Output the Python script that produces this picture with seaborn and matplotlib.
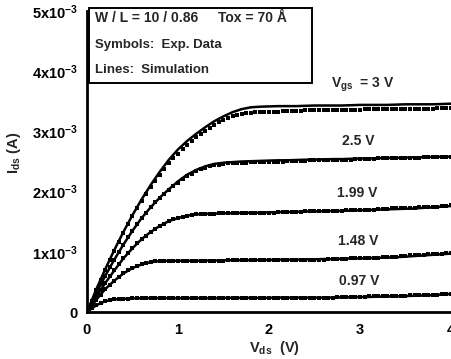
import numpy as np
import pandas as pd
import matplotlib
matplotlib.use("Agg")
import matplotlib.pyplot as plt
from matplotlib.patches import Rectangle
import seaborn as sns

# Gate voltages (V) and curve labels
vgs_values = [3.0, 2.5, 1.99, 1.48, 0.97]
vgs_labels = ["V$_{gs}$  = 3 V", "2.5 V", "1.99 V", "1.48 V", "0.97 V"]

# Simulation: Vds from 0 to 4 V in 0.1 V steps, Ids in mA
vds_sim = [round(0.1 * i, 2) for i in range(41)]
sim_3v00 = [0, .37, .71, 1.03, 1.33, 1.61, 1.87, 2.11, 2.33, 2.53, 2.70,
            2.84, 2.96, 3.07, 3.17, 3.25, 3.32, 3.37, 3.40, 3.41, 3.415,
            3.42, 3.42, 3.42, 3.425, 3.43, 3.43, 3.43, 3.43, 3.435, 3.44,
            3.44, 3.44, 3.44, 3.445, 3.45, 3.45, 3.45, 3.45, 3.455, 3.46]
sim_2v50 = [0, .31, .60, .87, 1.12, 1.35, 1.56, 1.74, 1.90, 2.04, 2.17,
            2.28, 2.36, 2.42, 2.46, 2.48, 2.49, 2.50, 2.505, 2.51, 2.515,
            2.52, 2.52, 2.525, 2.53, 2.53, 2.535, 2.54, 2.54, 2.545, 2.55,
            2.55, 2.555, 2.56, 2.56, 2.565, 2.57, 2.57, 2.575, 2.58, 2.58]
sim_1v99 = [0, .25, .48, .69, .89, 1.06, 1.21, 1.33, 1.43, 1.51, 1.56,
            1.60, 1.62, 1.63, 1.635, 1.64, 1.64, 1.645, 1.65, 1.65, 1.655,
            1.66, 1.66, 1.665, 1.67, 1.67, 1.675, 1.68, 1.68, 1.685, 1.69,
            1.695, 1.70, 1.705, 1.71, 1.715, 1.72, 1.73, 1.74, 1.75, 1.76]
sim_1v48 = [0, .20, .38, .52, .64, .73, .79, .83, .845, .85, .85,
            .85, .85, .855, .855, .86, .86, .86, .86, .865, .865,
            .87, .87, .87, .875, .875, .88, .88, .885, .89, .89,
            .895, .90, .905, .91, .92, .93, .94, .95, .96, .97]
sim_0v97 = [0, .11, .18, .21, .22, .225, .23, .23, .23, .23, .23,
            .23, .23, .23, .23, .235, .235, .235, .235, .235, .235,
            .24, .24, .24, .24, .24, .24, .24, .245, .245, .25,
            .25, .255, .26, .26, .265, .27, .275, .28, .29, .30]

# Measured data: Vds from 0 to 4 V in 0.05 V steps, Ids in mA
vds_exp = [round(0.05 * i, 2) for i in range(81)]
exp_3v00 = [0, .18, .36, .53, .70, .86, 1.02, 1.17, 1.32, 1.46, 1.59,
            1.72, 1.84, 1.96, 2.07, 2.18, 2.28, 2.38, 2.47, 2.55, 2.63,
            2.70, 2.77, 2.84, 2.90, 2.96, 3.01, 3.06, 3.11, 3.15, 3.19,
            3.22, 3.25, 3.27, 3.29, 3.30, 3.31, 3.32, 3.32, 3.33, 3.33,
            3.33, 3.33, 3.34, 3.34, 3.34, 3.34, 3.34, 3.35, 3.35, 3.35,
            3.35, 3.35, 3.35, 3.36, 3.36, 3.36, 3.36, 3.36, 3.36, 3.36,
            3.37, 3.37, 3.37, 3.37, 3.37, 3.37, 3.37, 3.37, 3.38, 3.38,
            3.38, 3.38, 3.38, 3.38, 3.38, 3.38, 3.39, 3.39, 3.39, 3.39]
exp_2v50 = [0, .16, .31, .46, .60, .74, .87, 1.00, 1.12, 1.24, 1.35,
            1.46, 1.56, 1.65, 1.74, 1.82, 1.89, 1.96, 2.03, 2.09, 2.15,
            2.21, 2.26, 2.30, 2.34, 2.37, 2.40, 2.42, 2.44, 2.45, 2.46,
            2.47, 2.47, 2.48, 2.48, 2.48, 2.49, 2.49, 2.49, 2.50, 2.50,
            2.50, 2.50, 2.50, 2.51, 2.51, 2.51, 2.51, 2.51, 2.52, 2.52,
            2.52, 2.52, 2.52, 2.53, 2.53, 2.53, 2.53, 2.53, 2.54, 2.54,
            2.54, 2.54, 2.54, 2.55, 2.55, 2.55, 2.55, 2.55, 2.56, 2.56,
            2.56, 2.56, 2.56, 2.57, 2.57, 2.57, 2.57, 2.57, 2.58, 2.58]
exp_1v99 = [0, .13, .25, .37, .48, .59, .69, .79, .89, .98, 1.06,
            1.14, 1.21, 1.27, 1.33, 1.38, 1.43, 1.47, 1.51, 1.54, 1.56,
            1.58, 1.60, 1.61, 1.62, 1.62, 1.63, 1.63, 1.63, 1.64, 1.64,
            1.64, 1.64, 1.64, 1.65, 1.65, 1.65, 1.65, 1.65, 1.65, 1.65,
            1.65, 1.66, 1.66, 1.66, 1.66, 1.66, 1.66, 1.67, 1.67, 1.67,
            1.67, 1.67, 1.68, 1.68, 1.68, 1.68, 1.69, 1.69, 1.69, 1.69,
            1.70, 1.70, 1.70, 1.71, 1.71, 1.71, 1.72, 1.72, 1.72, 1.73,
            1.73, 1.73, 1.74, 1.74, 1.74, 1.75, 1.75, 1.76, 1.76, 1.77]
exp_1v48 = [0, .10, .20, .29, .38, .45, .52, .58, .64, .69, .73,
            .76, .79, .81, .83, .84, .84, .85, .85, .85, .85,
            .85, .85, .85, .85, .85, .85, .85, .85, .85, .85,
            .86, .86, .86, .86, .86, .86, .86, .86, .86, .86,
            .86, .86, .86, .87, .87, .87, .87, .87, .87, .87,
            .87, .87, .88, .88, .88, .88, .88, .89, .89, .89,
            .89, .90, .90, .90, .91, .91, .92, .92, .93, .93,
            .94, .94, .95, .95, .96, .96, .97, .97, .98, .98]
exp_0v97 = [0, .06, .11, .15, .18, .20, .21, .22, .22, .22, .23,
            .23, .23, .23, .23, .23, .23, .23, .23, .23, .23,
            .23, .23, .23, .23, .23, .23, .23, .23, .23, .23,
            .23, .23, .23, .24, .24, .24, .24, .24, .24, .24,
            .24, .24, .24, .24, .24, .24, .24, .24, .24, .24,
            .24, .24, .24, .24, .25, .25, .25, .25, .25, .25,
            .25, .26, .26, .26, .26, .26, .27, .27, .27, .27,
            .28, .28, .28, .28, .29, .29, .29, .30, .30, .30]

# Curve label anchor positions (Vds in V, Ids in mA)
label_vds = [3.03, 2.98, 2.97, 2.98, 2.99]
label_ids = [3.77, 2.84, 1.98, 1.18, 0.51]

# Axis ticks
xtick_values = [0, 1, 2, 3, 4]
xtick_labels = ["0", "1", "2", "3", "4"]
ytick_values = [0, 1e-3, 2e-3, 3e-3, 4e-3, 5e-3]
ytick_labels = ["0", "1x10$^{-3}$", "2x10$^{-3}$", "3x10$^{-3}$",
                "4x10$^{-3}$", "5x10$^{-3}$"]

sim_curves = [sim_3v00, sim_2v50, sim_1v99, sim_1v48, sim_0v97]
exp_curves = [exp_3v00, exp_2v50, exp_1v99, exp_1v48, exp_0v97]

sim_df = pd.concat([
    pd.DataFrame({"vds": vds_sim, "ids": np.array(c) * 1e-3, "vgs": v})
    for v, c in zip(vgs_values, sim_curves)
], ignore_index=True)
exp_df = pd.concat([
    pd.DataFrame({"vds": vds_exp, "ids": np.array(c) * 1e-3, "vgs": v})
    for v, c in zip(vgs_values, exp_curves)
], ignore_index=True)

sns.set_style("white")
plt.rcParams["font.family"] = ["Liberation Sans", "DejaVu Sans"]
plt.rcParams["font.weight"] = "bold"
plt.rcParams["mathtext.fontset"] = "custom"
plt.rcParams["mathtext.rm"] = "Liberation Sans:bold"
plt.rcParams["mathtext.it"] = "Liberation Sans:bold"
plt.rcParams["mathtext.bf"] = "Liberation Sans:bold"
plt.rcParams["mathtext.default"] = "rm"

fig = plt.figure(figsize=(4.52, 3.59), dpi=100)
ax = fig.add_axes([87 / 452, 47 / 359, 364 / 452, 301 / 359])

sns.lineplot(data=sim_df, x="vds", y="ids", units="vgs", estimator=None,
             color="black", linewidth=1.8, ax=ax, legend=False)
sns.scatterplot(data=exp_df, x="vds", y="ids", marker="s", s=9,
                color="black", linewidth=0, ax=ax, legend=False, zorder=3)

ax.set_xlim(0, 4)
ax.set_ylim(0, 5e-3)
ax.set_xticks(xtick_values)
ax.set_xticklabels(xtick_labels)
ax.set_yticks(ytick_values)
ax.set_yticklabels(ytick_labels)
ax.tick_params(axis="both", direction="in", labelsize=10.5, width=1.6,
               color="black", labelcolor="black")
ax.tick_params(axis="y", length=7, pad=6.5)
ax.tick_params(axis="x", length=5, pad=8)

for side in ("top", "right"):
    ax.spines[side].set_visible(False)
for side in ("left", "bottom"):
    ax.spines[side].set_linewidth(2.0)
    ax.spines[side].set_color("black")

ax.set_xlabel("V$_{ds}$  (V)", fontsize=10.5, fontweight="bold")
ax.set_ylabel("I$_{ds}$ (A)", fontsize=10.5, fontweight="bold")
ax.xaxis.set_label_coords(0.516, -0.09)
ax.yaxis.set_label_coords(-0.176, 0.53)

for txt, xv, yv in zip(vgs_labels, label_vds, label_ids):
    ax.text(xv, yv * 1e-3, txt, ha="center", va="center", fontsize=10,
            fontweight="bold")

# Info box in the upper left corner
box = Rectangle((0.022, 3.80e-3), 2.45, 1.25e-3, fill=False,
                edgecolor="black", linewidth=1.4, clip_on=False,
                transform=ax.transData)
ax.add_patch(box)
ax.text(0.09, 4.88e-3, "W / L = 10 / 0.86", ha="left", va="center",
        fontsize=10, fontweight="bold")
ax.text(1.44, 4.88e-3, "Tox = 70 Å", ha="left", va="center",
        fontsize=10, fontweight="bold")
ax.text(0.09, 4.43e-3, "Symbols:  Exp. Data", ha="left", va="center",
        fontsize=9.5, fontweight="bold")
ax.text(0.09, 4.02e-3, "Lines:  Simulation", ha="left", va="center",
        fontsize=9.5, fontweight="bold")

fig.savefig("out.png", dpi=100)
